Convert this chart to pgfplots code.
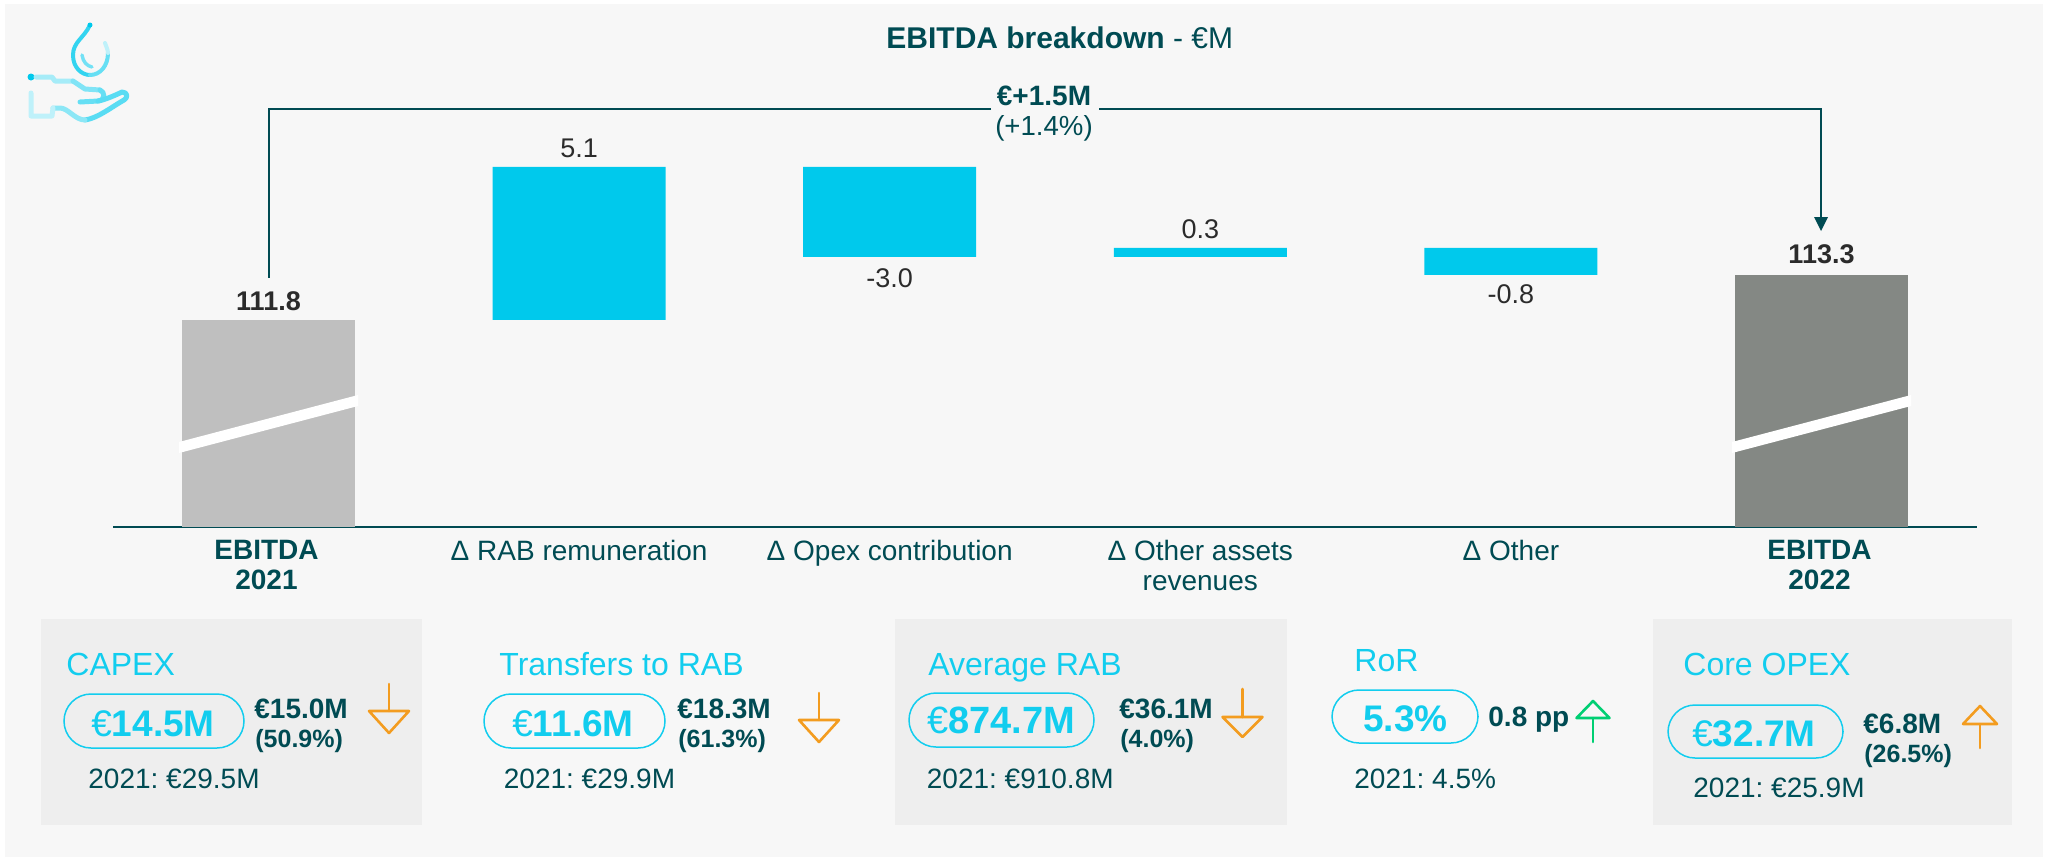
\documentclass[border=0pt]{standalone}
\usepackage{pgfplots}
\pgfplotsset{compat=1.18}
\usepackage{fontspec}
\setmainfont{Liberation Sans}
\frenchspacing
\definecolor{teal}{HTML}{004B53}
\definecolor{cy}{HTML}{00C9EC}
\definecolor{cyt}{HTML}{12CDEE}
\definecolor{lg}{HTML}{BFBFBF}
\definecolor{dg}{HTML}{848884}
\definecolor{nums}{HTML}{2B2B2B}
\definecolor{bgp}{HTML}{F7F7F7}
\definecolor{pan}{HTML}{EEEEEE}
\definecolor{org}{HTML}{F39C1F}
\definecolor{grn}{HTML}{00CF73}
\newcommand{\T}[5]{\node[anchor=base west,inner sep=0pt,text=#4,font=\fontsize{#3}{#3}\selectfont] at (#1,#2) {#5};}
\newcommand{\C}[5]{\node[anchor=base,inner sep=0pt,text=#4,font=\fontsize{#3}{#3}\selectfont] at (#1,#2) {#5};}
\newcommand{\Pill}[4]{\draw[cyt,line width=.75pt,rounded corners=13.5pt] (#1,#3) rectangle (#2,#4);}
\newcommand{\Eu}{{\mdseries €}}
% x, stem end, base y, half width, apex, colour
\newcommand{\Arr}[6]{\draw[#6,line width=1.3pt,line cap=round] (#1,#2)--(#1,#3);
 \draw[#6,line width=1.3pt,line join=round] (#1-#4,#3)--(#1+#4,#3)--(#1,#5)--cycle;}
\pgfplotsset{base/.style={
  at={(56.6pt,-263.5pt)},anchor=south west,scale only axis,
  width=931.8pt,height=195pt,
  xmin=-0.5,xmax=5.5,ymin=104.9,ymax=117.9}}
\begin{document}
\begin{tikzpicture}
\begin{scope}[x=.5pt,y=-.5pt]
\fill[white] (0,0) rectangle (2045,858);
\fill[bgp] (5,4) rectangle (2043,857);
\fill[pan] (41,619) rectangle (422,825);
\fill[pan] (895,619) rectangle (1287,825);
\fill[pan] (1653,619) rectangle (2012,825);
\end{scope}
\begin{axis}[base,
  ybar stacked,bar width=86.5pt,
  axis x line=bottom,axis y line=none,
  axis line style={draw=teal,line width=1pt,-},
  xtick={0,1,2,3,4,5},
  major tick length=0pt,
  xticklabels={{\bfseries EBITDA\kern2pt\\\bfseries 2021\kern2pt},{Δ RAB remuneration},{Δ Opex contribution},{Δ Other assets\\revenues},{Δ Other},{\bfseries EBITDA\kern2pt\\\bfseries 2022\kern2pt}},
  x tick label style={font=\fontsize{14}{15}\selectfont,align=center,text=teal,anchor=north,yshift=-3pt}]
\addplot[draw=none,fill=none] coordinates {(0,0)(1,111.8)(2,113.9)(3,113.9)(4,113.3)(5,0)};
\addplot[draw=none,fill=lg] coordinates {(0,111.8)(1,0)(2,0)(3,0)(4,0)(5,0)};
\addplot[draw=none,fill=cy] coordinates {(0,0)(1,5.1)(2,3.0)(3,0.3)(4,0.9)(5,0)};
\addplot[draw=none,fill=dg] coordinates {(0,0)(1,0)(2,0)(3,0)(4,0)(5,113.3)};
\end{axis}
\begin{axis}[base,hide axis,clip=false,
  nodes near coords,point meta=explicit symbolic]
\addplot[draw=none,nodes near coords style={anchor=base,inner sep=0pt,yshift=5pt,text=nums,font=\bfseries\fontsize{13.5}{15}\selectfont}]
  coordinates {(0,111.8)[111.8]};
\addplot[draw=none,nodes near coords style={anchor=base,inner sep=0pt,yshift=6pt,text=nums,font=\bfseries\fontsize{13.5}{15}\selectfont}]
  coordinates {(5,113.3)[113.3]};
\addplot[draw=none,nodes near coords style={anchor=base,inner sep=0pt,yshift=5pt,text=nums,font=\fontsize{13.5}{15}\selectfont}]
  coordinates {(1,116.9)[5.1] (3,114.2)[0.3]};
\addplot[draw=none,nodes near coords style={anchor=base,inner sep=0pt,yshift=-15.25pt,text=nums,font=\fontsize{13.5}{15}\selectfont}]
  coordinates {(2,113.9)[-3.0]};
\addplot[draw=none,nodes near coords style={anchor=base,inner sep=0pt,yshift=-14pt,text=nums,font=\fontsize{13.5}{15}\selectfont}]
  coordinates {(4,113.3)[-0.8]};
\end{axis}
\begin{scope}[x=.5pt,y=-.5pt]
% stripes
\fill[white] (179,442)--(358,395)--(358,406)--(179,453)--cycle;
\fill[white] (1732,442)--(1911,395)--(1911,406)--(1732,453)--cycle;
% bracket
\draw[teal,line width=1.25pt,line join=miter] (991,109)--(269,109)--(269,278);
\draw[teal,line width=1.25pt,line join=miter] (1099,109)--(1821,109)--(1821,218);
\fill[teal] (1814,217)--(1828,217)--(1821,231)--cycle;
\C{1044}{105}{14}{teal}{\bfseries €+1.5M}
\C{1044}{135}{13.8}{teal}{(+1.4\%)}
% title
\T{886}{48}{15}{teal}{\textbf{EBITDA breakdown} - €M}
% icon
\begin{scope}[line cap=round,line join=round]
\draw[cy!80,line width=2pt] (90,25) .. controls (84,38) and (73,42) .. (73,55) .. controls (73,68) and (82,75) .. (90,75);
\draw[cy!60,line width=2pt] (90,75) .. controls (100,75) and (108,66) .. (108,53);
\draw[cy!25,line width=2pt] (108,53) .. controls (108,50) and (106,46) .. (105,43);
\fill[cy] (90,25) circle (2.5);
\draw[cy!55,line width=1.7pt] (82,55) .. controls (83,62) and (87,66) .. (92,67);
\fill[cy] (31,77) circle (3.5);
\draw[cy!35,line width=2.5pt] (36,77)--(52,77)--(55,81)--(73,81);
\draw[cy!50,line width=2.5pt] (73,81)--(85,89)--(100,90);
\draw[cy!60,line width=2.5pt] (100,90) .. controls (105,92) and (106,100) .. (98,101)--(80,102);
\draw[cy!65,line width=2.5pt] (98,101) .. controls (105,100) and (118,94) .. (122,92) .. controls (128,92) and (128,98) .. (124,100) .. controls (110,108) and (98,118) .. (85,120);
\draw[cy!45,line width=2.5pt] (85,120) .. controls (75,120) and (68,108) .. (60,108)--(53,108);
\draw[cy!25,line width=2.5pt] (53,108)--(52,116)--(31,116)--(31,93);
\end{scope}
% CAPEX
\T{66}{675}{16}{cyt}{CAPEX}
\Pill{64}{244}{694}{748}
\C{153}{736}{18.5}{cyt}{\bfseries\Eu 14.5M}
\T{254}{718}{14}{teal}{\bfseries €15.0M}
\T{255}{747}{12.5}{teal}{\bfseries (50.9\%)}
\Arr{389}{684}{711}{20}{733}{org}
\T{88}{788}{14}{teal}{2021: €29.5M}
% Transfers
\T{499}{675}{16}{cyt}{Transfers to RAB}
\Pill{484}{665}{694}{748}
\C{573}{736}{18.5}{cyt}{\bfseries\Eu 11.6M}
\T{677}{718}{14}{teal}{\bfseries €18.3M}
\T{678}{747}{12.5}{teal}{\bfseries (61.3\%)}
\Arr{819}{693}{720}{20}{742}{org}
\T{503.5}{788}{14}{teal}{2021: €29.9M}
% Average RAB
\T{928}{675}{16}{cyt}{Average RAB}
\Pill{909}{1094}{693}{747}
\C{1001}{733}{19}{cyt}{\bfseries\Eu 874.7M}
\T{1119}{718}{14}{teal}{\bfseries €36.1M}
\T{1120}{747}{12.5}{teal}{\bfseries (4.0\%)}
\Arr{1242.5}{689}{717}{20}{737}{org}
\T{926.5}{788}{14}{teal}{2021: €910.8M}
% RoR
\T{1354}{671}{16}{cyt}{RoR}
\Pill{1332}{1478}{690}{743}
\C{1405.5}{731}{18.5}{cyt}{\bfseries 5.3\%}
\T{1488}{726}{14}{teal}{\bfseries 0.8 pp}
\Arr{1593}{742}{718}{16.5}{701}{grn}
\T{1354}{788}{14}{teal}{2021: 4.5\%}
% Core OPEX
\T{1683}{675}{16}{cyt}{Core OPEX}
\Pill{1668}{1843}{705}{758}
\C{1754}{746}{18.5}{cyt}{\bfseries\Eu 32.7M}
\T{1863}{733}{14}{teal}{\bfseries €6.8M}
\T{1864}{762}{12.5}{teal}{\bfseries (26.5\%)}
\Arr{1980}{748}{724}{17}{706}{org}
\T{1693}{797}{14}{teal}{2021: €25.9M}
\end{scope}
\end{tikzpicture}
\end{document}
